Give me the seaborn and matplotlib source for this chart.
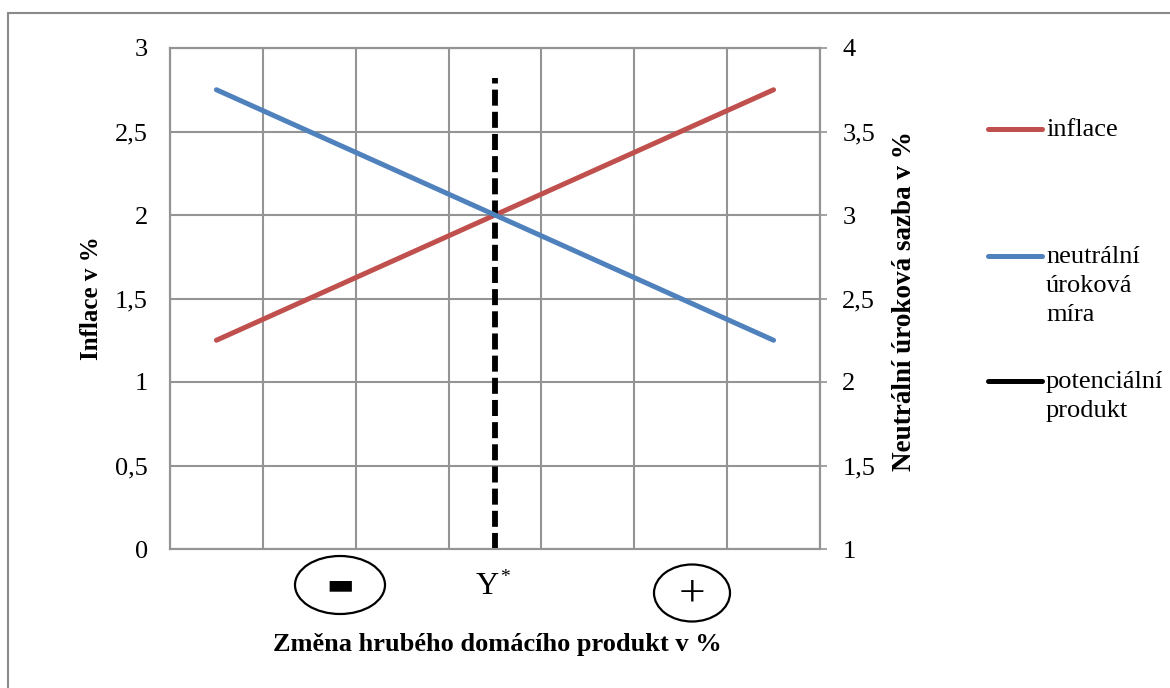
import matplotlib
matplotlib.use("Agg")
import matplotlib.pyplot as plt
import seaborn as sns
import pandas as pd
from matplotlib.patches import Ellipse
from matplotlib.lines import Line2D

# ---- data ----
categories = [1, 2, 3, 4, 5, 6, 7]
inflation = [1.25, 1.5, 1.75, 2.0, 2.25, 2.5, 2.75]
neutral_rate = [3.75, 3.5, 3.25, 3.0, 2.75, 2.5, 2.25]
potential_x = [4, 4]
potential_y = [0.0, 2.82]
left_ticks = [0, 0.5, 1, 1.5, 2, 2.5, 3]
left_labels = ["0", "0,5", "1", "1,5", "2", "2,5", "3"]
right_ticks = [1, 1.5, 2, 2.5, 3, 3.5, 4]
right_labels = ["1", "1,5", "2", "2,5", "3", "3,5", "4"]
legend_labels = ["inflace", "neutrální\núroková\nmíra", "potenciální\nprodukt"]

RED = "#C0504D"
BLUE = "#4F81BD"
BLACK = "#000000"
GRID = "#949494"

sns.set_style("white")
plt.rcParams["font.family"] = ["Liberation Serif", "DejaVu Serif"]
plt.rcParams["text.color"] = "black"
plt.rcParams["axes.labelcolor"] = "black"
plt.rcParams["xtick.color"] = "black"
plt.rcParams["ytick.color"] = "black"

W, H = 1170, 688
fig = plt.figure(figsize=(W / 100, H / 100), dpi=100)
ax = fig.add_axes([170 / W, 1 - 549 / H, 650 / W, 501 / H])

df_inf = pd.DataFrame({"cat": categories, "val": inflation})
df_neu = pd.DataFrame({"cat": categories, "val": neutral_rate})
df_pot = pd.DataFrame({"cat": potential_x, "val": potential_y})

sns.lineplot(data=df_inf, x="cat", y="val", ax=ax, color=RED, linewidth=3.6,
             estimator=None, sort=False, solid_capstyle="round", zorder=3)
sns.lineplot(data=df_pot, x="cat", y="val", ax=ax, color=BLACK, linewidth=4.2,
             estimator=None, sort=False, zorder=4)
pot_line = ax.lines[-1]
pot_line.set_dashes((2.75, 1.05))
pot_line.set_dash_capstyle("butt")

ax.set_xlim(0.5, 7.5)
ax.set_ylim(0, 3)
ax.set_xticks([c - 0.5 for c in categories] + [categories[-1] + 0.5])
ax.set_xticklabels([])
ax.set_yticks(left_ticks)
ax.set_yticklabels(left_labels)
ax.grid(True, color=GRID, linewidth=1.5)
ax.tick_params(axis="both", length=0, labelsize=19, labelcolor="black")
ax.tick_params(axis="y", pad=16)
for s in ax.spines.values():
    s.set_color(GRID)
    s.set_linewidth(1.5)

ax2 = ax.twinx()
sns.lineplot(data=df_neu, x="cat", y="val", ax=ax2, color=BLUE, linewidth=3.6,
             estimator=None, sort=False, solid_capstyle="round", zorder=3)
ax2.set_ylim(1, 4)
ax2.set_yticks(right_ticks)
ax2.set_yticklabels(right_labels)
ax2.grid(False)
ax2.tick_params(axis="y", length=5, width=1.2, color=GRID, labelcolor="black",
                labelsize=19, pad=11)
for s in ax2.spines.values():
    s.set_color(GRID)
    s.set_linewidth(1.5)

ax.set_ylabel("Inflace v %", fontsize=18, fontweight="bold", color="black")
ax.yaxis.set_label_coords((92 - 170) / 650, 0.5)
ax.yaxis.label.set_va("center")
ax2.set_ylabel("Neutrální úroková sazba v %", fontsize=19.5, fontweight="bold", color="black")
ax2.yaxis.set_label_coords((904 - 170) / 650, (549 - 301) / 501)
ax2.yaxis.label.set_va("center")
ax2.yaxis.label.set_rotation(90)
ax.set_xlabel("Změna hrubého domácího produkt v %", fontsize=19, fontweight="bold",
              color="black")
ax.xaxis.set_label_coords((497 - 170) / 650, (549 - 645) / 501)
ax.xaxis.label.set_va("center")

def fx(x):
    return x / W

def fy(y):
    return 1 - y / H

# annotations below the axis
fig.add_artist(Ellipse((fx(340), fy(585)), 90 / W, 58 / H, transform=fig.transFigure,
                       fill=False, edgecolor="black", linewidth=1.6))
fig.add_artist(Ellipse((fx(692), fy(593)), 76 / W, 57 / H, transform=fig.transFigure,
                       fill=False, edgecolor="black", linewidth=1.6))
fig.text(fx(340), fy(585), "▬", family=["DejaVu Sans"], fontsize=21,
         ha="center", va="center", color="black")
fig.text(fx(692), fy(594), "+", fontsize=34, ha="center", va="center", color="black")
fig.text(fx(487), fy(587), "Y", fontsize=23, ha="center", va="center", color="black")
fig.text(fx(505), fy(578), "*", fontsize=14, ha="center", va="center", color="black")

# legend
leg_items = [(RED, 129), (BLUE, 256), (BLACK, 381)]
for (col, y), lab in zip(leg_items, legend_labels):
    fig.add_artist(Line2D([fx(988), fx(1042)], [fy(y), fy(y)], transform=fig.transFigure,
                          color=col, linewidth=3.6, solid_capstyle="round"))
    fig.text(fx(1046), fy(y - 10), lab, fontsize=19, ha="left", va="top",
             linespacing=1.4, color="black")

# outer chart-area border (left and top)
fig.add_artist(Line2D([fx(8), fx(8)], [fy(13), 0], transform=fig.transFigure,
                      color="#8a8a8a", linewidth=1.5))
fig.add_artist(Line2D([fx(8), 1], [fy(13), fy(13)], transform=fig.transFigure,
                      color="#8a8a8a", linewidth=1.5))

fig.savefig("out.png", dpi=100)
